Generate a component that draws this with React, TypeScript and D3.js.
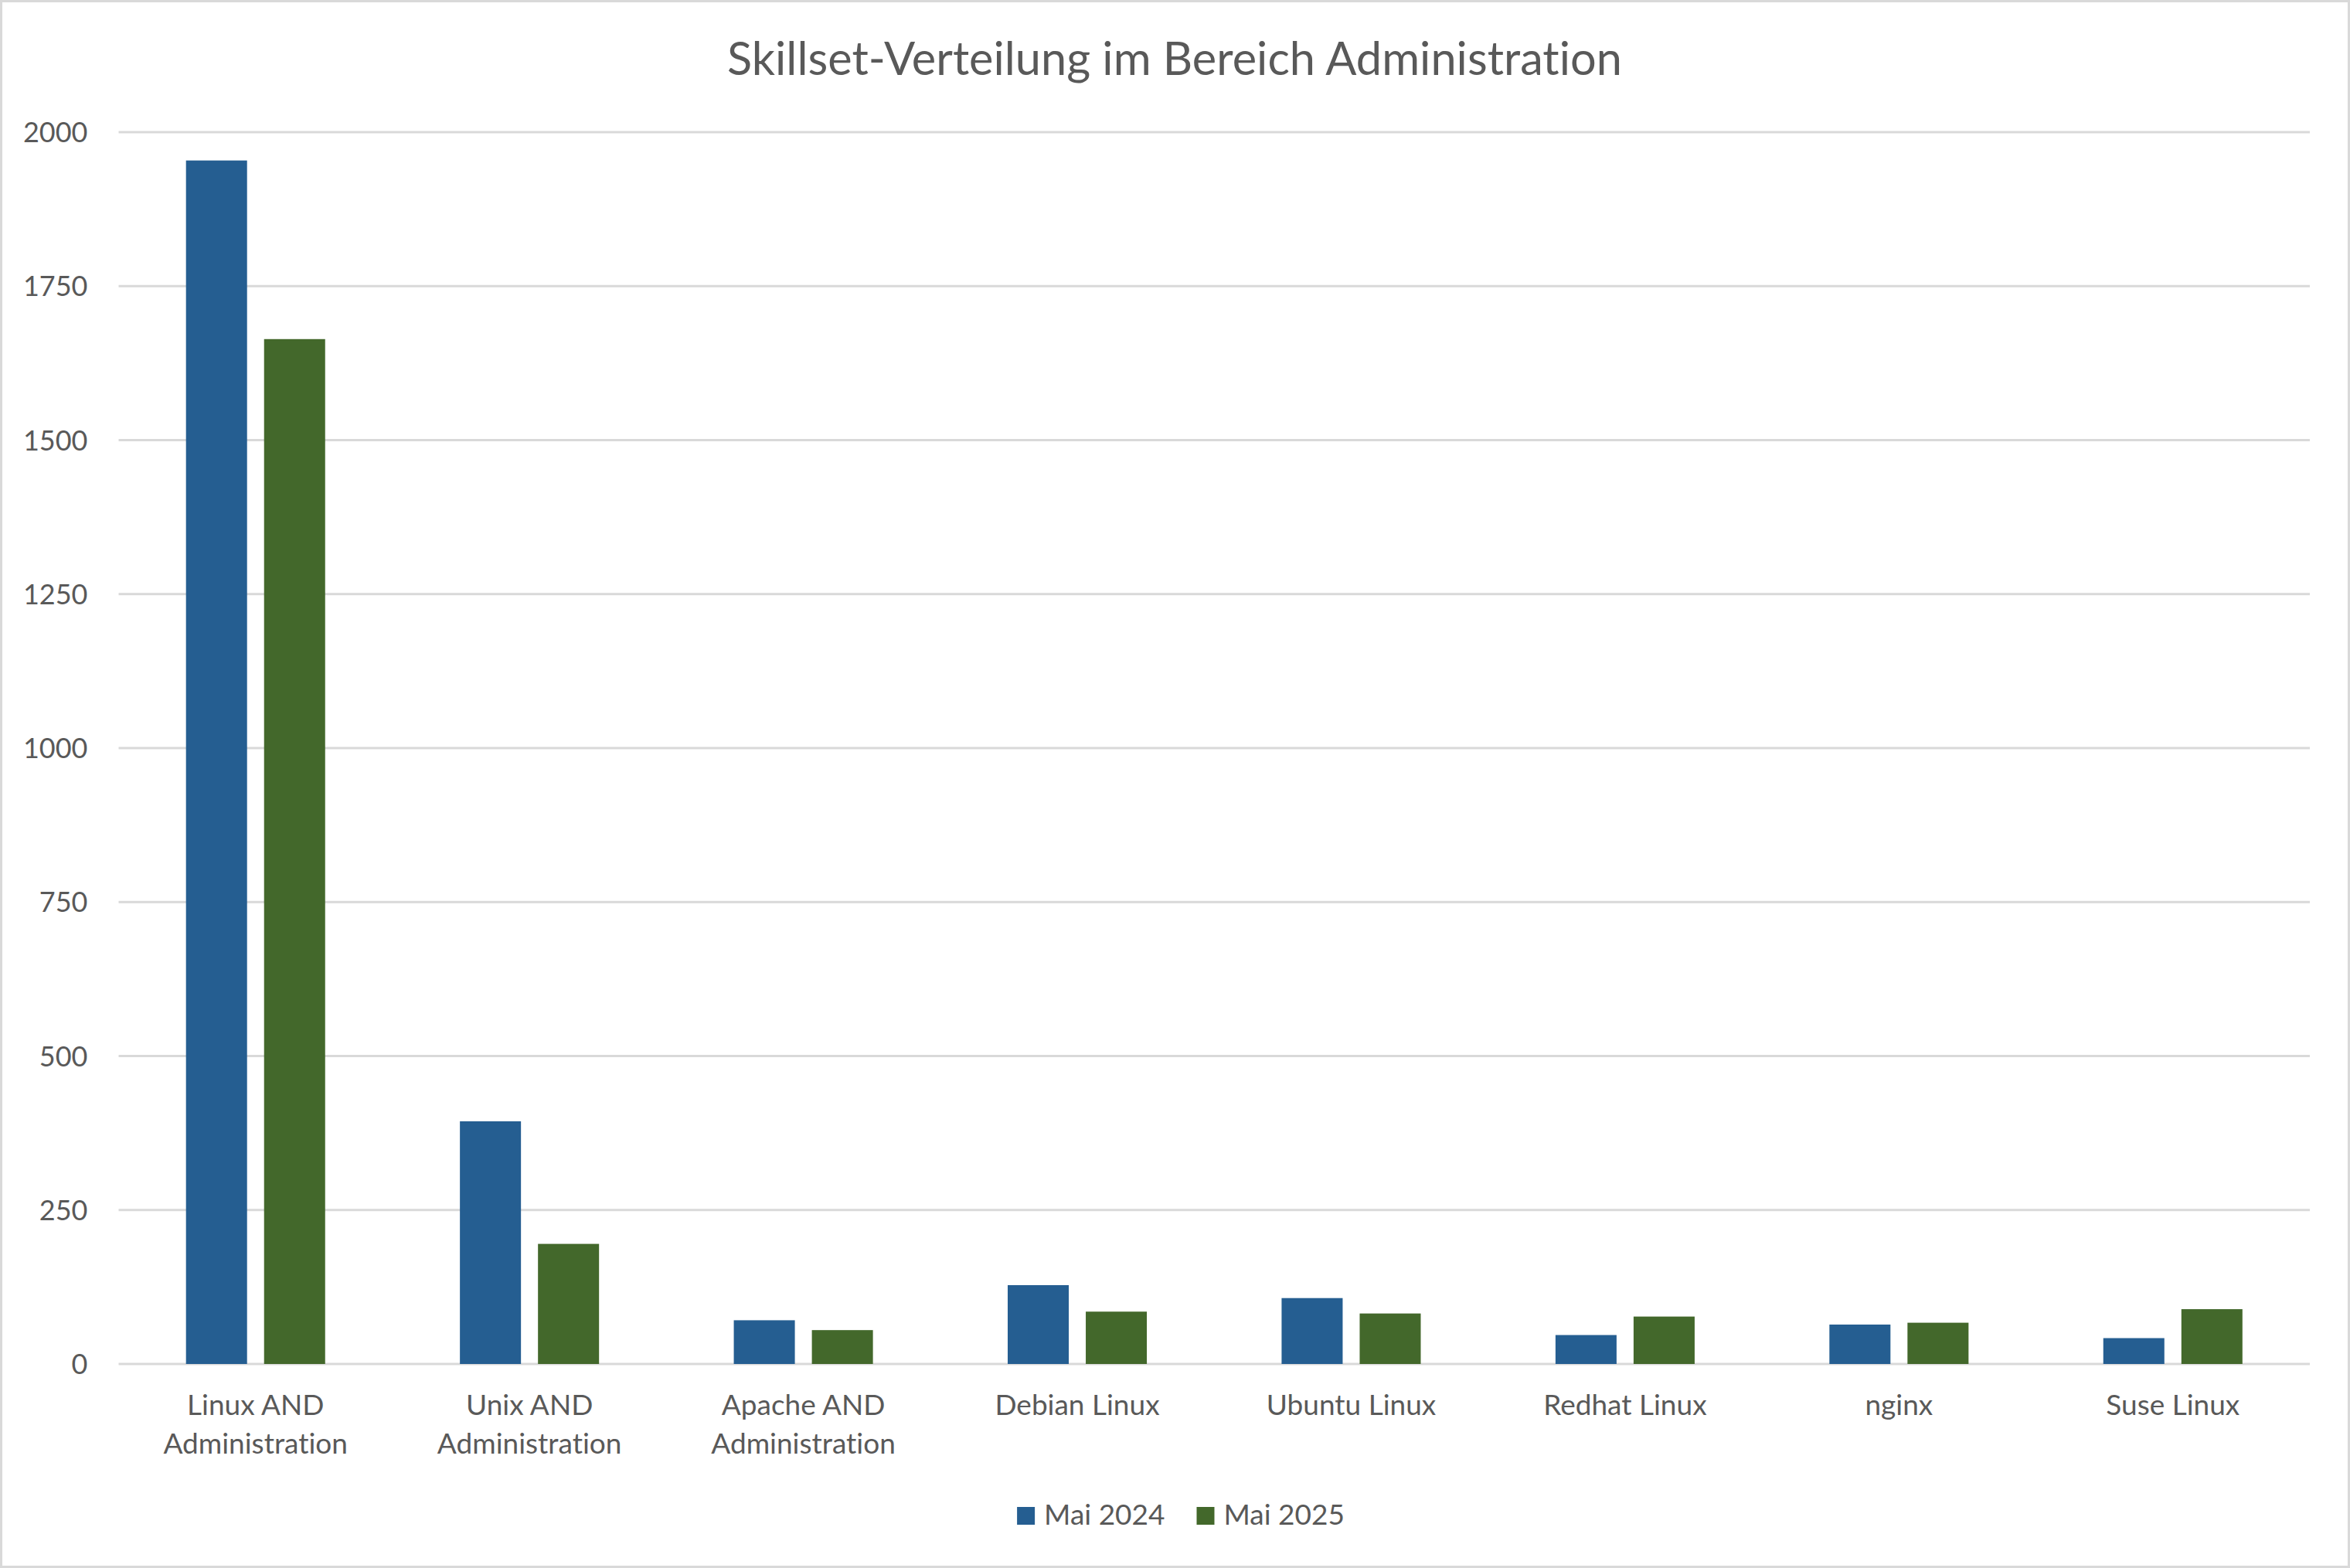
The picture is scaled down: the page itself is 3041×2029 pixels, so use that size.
import React, { useEffect, useRef } from 'react'
import * as d3 from 'd3'

const categories = [
  'Linux AND Administration',
  'Unix AND Administration',
  'Apache AND Administration',
  'Debian Linux',
  'Ubuntu Linux',
  'Redhat Linux',
  'nginx',
  'Suse Linux',
]
// display lines per category label
const categoryLines = [
  ['Linux AND', 'Administration'],
  ['Unix AND', 'Administration'],
  ['Apache AND', 'Administration'],
  ['Debian Linux'],
  ['Ubuntu Linux'],
  ['Redhat Linux'],
  ['nginx'],
  ['Suse Linux'],
]
const seriesNames = ['Mai 2024', 'Mai 2025']
const mai2024 = [1954, 394, 71, 128, 107, 47, 64, 42]
const mai2025 = [1664, 195, 55, 85, 82, 77, 67, 89]
const yTicks = [0, 250, 500, 750, 1000, 1250, 1500, 1750, 2000]
const title = 'Skillset-Verteilung im Bereich Administration'

const colors = ['#255E91', '#43682B']
const textColor = '#595959'
const gridColor = '#D9D9D9'
const fontFamily = 'Lato, "Open Sans", sans-serif'

const W = 3041
const H = 2029

export default function App() {
  const svgRef = useRef<SVGSVGElement>(null)

  useEffect(() => {
    if (!svgRef.current) return
    const svg = d3.select(svgRef.current)
    svg.selectAll('*').remove()

    const margin = { top: 171, right: 52, bottom: 264, left: 153.5 }
    const innerWidth = W - margin.left - margin.right
    const innerHeight = H - margin.top - margin.bottom

    // chart border
    svg.append('rect')
      .attr('x', 1.5).attr('y', 1.5)
      .attr('width', W - 3).attr('height', H - 3)
      .attr('fill', '#ffffff')
      .attr('stroke', gridColor)
      .attr('stroke-width', 3)

    // title
    svg.append('text')
      .attr('x', 1520)
      .attr('y', 97)
      .attr('text-anchor', 'middle')
      .attr('font-family', fontFamily)
      .attr('font-size', 59.5)
      .attr('fill', textColor)
      .text(title)

    const g = svg.append('g')
      .attr('transform', `translate(${margin.left},${margin.top})`)

    const x0 = d3.scaleBand()
      .domain(categories)
      .range([0, innerWidth])
      .padding(0)

    const x1 = d3.scaleBand()
      .domain(seriesNames)
      .range([0, x0.bandwidth()])
      .paddingInner(0.218)
      .paddingOuter(0.863)

    const y = d3.scaleLinear()
      .domain([0, 2000])
      .range([innerHeight, 0])

    // grid lines
    g.selectAll('.grid')
      .data(yTicks)
      .enter()
      .append('line')
      .attr('class', 'grid')
      .attr('x1', 0)
      .attr('x2', innerWidth)
      .attr('y1', d => y(d))
      .attr('y2', d => y(d))
      .attr('stroke', gridColor)
      .attr('stroke-width', 3)

    // y labels
    g.selectAll('.ylabel')
      .data(yTicks)
      .enter()
      .append('text')
      .attr('class', 'ylabel')
      .attr('x', -40)
      .attr('y', d => y(d) + 13)
      .attr('text-anchor', 'end')
      .attr('font-family', fontFamily)
      .attr('font-size', 36)
      .attr('fill', textColor)
      .text(d => String(d))

    // bars
    const series = [mai2024, mai2025]
    series.forEach((values, si) => {
      g.selectAll(`.bar-${si}`)
        .data(values)
        .enter()
        .append('rect')
        .attr('class', `bar-${si}`)
        .attr('x', (_, i) => x0(categories[i])! + x1(seriesNames[si])!)
        .attr('y', d => y(d))
        .attr('width', x1.bandwidth())
        .attr('height', d => innerHeight - y(d))
        .attr('fill', colors[si])
    })

    // category labels
    const catG = g.selectAll('.cat')
      .data(categories)
      .enter()
      .append('text')
      .attr('class', 'cat')
      .attr('text-anchor', 'middle')
      .attr('font-family', fontFamily)
      .attr('font-size', 37)
      .attr('fill', textColor)

    catG.each(function (d, i) {
      const t = d3.select(this)
      categoryLines[i].forEach((line, li) => {
        t.append('tspan')
          .attr('x', x0(d)! + x0.bandwidth() / 2)
          .attr('y', innerHeight + 66 + li * 50)
          .text(line)
      })
    })

    // legend, centred
    const legend = svg.append('g')
    const items = seriesNames.map((name, i) => {
      const item = legend.append('g')
      item.append('rect')
        .attr('width', 23).attr('height', 23)
        .attr('y', 1950)
        .attr('fill', colors[i])
      const txt = item.append('text')
        .attr('x', 35)
        .attr('y', 1973)
        .attr('font-family', fontFamily)
        .attr('font-size', 37)
        .attr('fill', textColor)
        .text(name)
      const tw = (txt.node() as SVGTextElement).getComputedTextLength()
      return { item, width: 35 + tw }
    })
    const gap = 41
    const total = items.reduce((s, it) => s + it.width, 0) + gap * (items.length - 1)
    let cx = 1528 - total / 2
    items.forEach(it => {
      it.item.attr('transform', `translate(${cx},0)`)
      cx += it.width + gap
    })
  }, [])

  return (
    <svg
      ref={svgRef}
      width={W}
      height={H}
      style={{
        position: 'absolute',
        left: 0,
        top: 0,
        display: 'block',
        background: '#fff',
        fontVariantLigatures: 'none',
        fontFeatureSettings: '"liga" 0, "clig" 0',
      }}
    />
  )
}
